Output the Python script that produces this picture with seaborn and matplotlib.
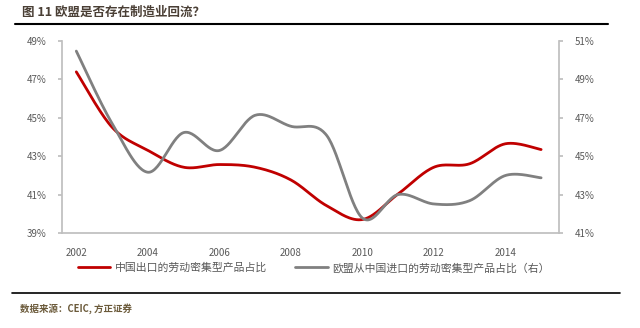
import numpy as np
import pandas as pd
import matplotlib
matplotlib.use("Agg")
import matplotlib.pyplot as plt
from matplotlib.lines import Line2D
import seaborn as sns

years = [2002, 2003, 2004, 2005, 2006, 2007, 2008, 2009, 2010, 2011, 2012, 2013, 2014, 2015]
china_export = [47.38, 44.5, 43.3, 42.42, 42.56, 42.42, 41.76, 40.42, 39.7, 41.03, 42.42, 42.6, 43.64, 43.34]
eu_import = [50.46, 46.7, 44.16, 46.22, 45.29, 47.12, 46.55, 46.08, 41.78, 43.0, 42.51, 42.68, 43.99, 43.87]
left_ticks = [39, 41, 43, 45, 47, 49]
right_ticks = [41, 43, 45, 47, 49, 51]
xticks = [2002, 2004, 2006, 2008, 2010, 2012, 2014]
label_red = "中国出口的劳动密集型产品占比"
label_gray = "欧盟从中国进口的劳动密集型产品占比（右）"
title = "图 11 欧盟是否存在制造业回流？"
source = "数据来源：CEIC, 方正证券"

sns.set_theme(style="white")
plt.rcParams['font.family'] = ['Noto Sans CJK SC', 'DejaVu Sans']


def smooth(xs, ys, n=30):
    # Catmull-Rom style smoothing (like Excel's smoothed line) for rendering only
    xs = np.asarray(xs, float); ys = np.asarray(ys, float)
    px = np.concatenate([[xs[0]], xs, [xs[-1]]])
    py = np.concatenate([[ys[0]], ys, [ys[-1]]])
    ox, oy = [], []
    for i in range(1, len(px) - 2):
        p0 = np.array([px[i - 1], py[i - 1]]); p1 = np.array([px[i], py[i]])
        p2 = np.array([px[i + 1], py[i + 1]]); p3 = np.array([px[i + 2], py[i + 2]])
        c1 = p1 + (p2 - p0) / 6.0
        c2 = p2 - (p3 - p1) / 6.0
        t = np.linspace(0, 1, n, endpoint=(i == len(px) - 3))[:, None]
        pts = (1 - t) ** 3 * p1 + 3 * (1 - t) ** 2 * t * c1 + 3 * (1 - t) * t ** 2 * c2 + t ** 3 * p2
        ox.extend(pts[:, 0]); oy.extend(pts[:, 1])
    return np.array(ox), np.array(oy)


rx, ry = smooth(years, china_export)
gx, gy = smooth(years, eu_import)
df_red = pd.DataFrame({"year": rx, "value": ry})
df_gray = pd.DataFrame({"year": gx, "value": gy})

fig = plt.figure(figsize=(6.4, 3.28), dpi=100)
ax = fig.add_axes([62 / 640, 1 - 233 / 328, (559 - 62) / 640, (233 - 40.7) / 328])
ax2 = ax.twinx()

red = "#C00000"
gray = "#808080"
sns.lineplot(data=df_red, x="year", y="value", ax=ax, color=red, lw=2.0, sort=False)
sns.lineplot(data=df_gray, x="year", y="value", ax=ax2, color=gray, lw=2.0, sort=False)

ax.set_xlim(2001.6, 2015.5)
ax.set_ylim(39, 49)
ax2.set_ylim(41, 51)
ax.set_xticks(xticks)
ax.set_xticklabels([str(x) for x in xticks])
ax.set_yticks(left_ticks)
ax.set_yticklabels([f"{v}%" for v in left_ticks])
ax2.set_yticks(right_ticks)
ax2.set_yticklabels([f"{v}%" for v in right_ticks])
for a in (ax, ax2):
    a.set_xlabel(""); a.set_ylabel("")
    for s in a.spines.values():
        s.set_visible(False)
    a.grid(False)
tc = "#595959"
spc = "#BFBFBF"
ax.spines['left'].set_visible(True); ax.spines['left'].set_color(spc)
ax.spines['bottom'].set_visible(True); ax.spines['bottom'].set_color(spc)
ax2.spines['right'].set_visible(True); ax2.spines['right'].set_color(spc)
ax.tick_params(axis='y', left=True, length=3, color=spc, labelsize=7, labelcolor=tc, pad=8)
ax.tick_params(axis='x', bottom=False, labelsize=7, labelcolor=tc, pad=5)
ax2.tick_params(axis='y', right=True, length=3, color=spc, labelsize=7, labelcolor=tc, pad=8)

handles = [Line2D([], [], color=red, lw=2.0), Line2D([], [], color=gray, lw=2.0)]
fig.legend(handles, [label_red, label_gray], loc='center', bbox_to_anchor=(0.49, 1 - 268 / 328),
           ncol=2, frameon=False, fontsize=7.8, labelcolor=tc, handlelength=3.0,
           columnspacing=2.6, handletextpad=0.4)

fig.text(22 / 640, 1 - 12 / 328, title, fontsize=9, fontweight='bold', color="#4a3f35",
         va='center', ha='left')
fig.add_artist(Line2D([15 / 640, 608 / 640], [1 - 24 / 328, 1 - 24 / 328], color='black', lw=1.5))
fig.add_artist(Line2D([12 / 640, 620 / 640], [1 - 293 / 328, 1 - 293 / 328], color='black', lw=1.2))
fig.text(20 / 640, 1 - 309 / 328, source, fontsize=6.8, fontweight='bold', style='italic',
         color="#6b5a3a", va='center', ha='left')

fig.savefig("out.png", dpi=100)
